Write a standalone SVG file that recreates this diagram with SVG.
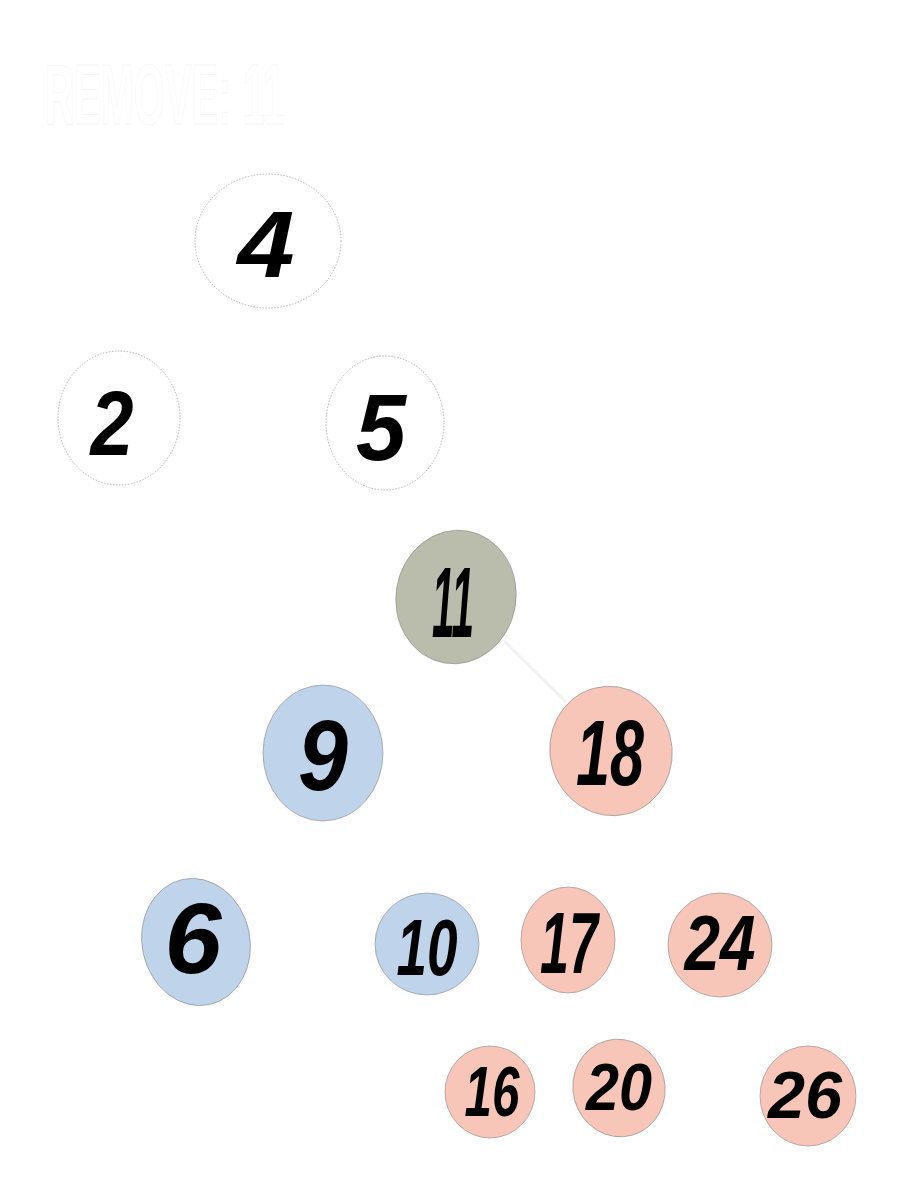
<svg xmlns="http://www.w3.org/2000/svg" width="905" height="1201" viewBox="0 0 905 1201">
<style>
.n{stroke:#8a8a8a;stroke-width:0.6}
.w{fill:#ffffff;stroke-dasharray:1.5 1.5}
.g{fill:#bbbdac}
.b{fill:#bfd3ea}
.r{fill:#f7c6b9}
.t{font-family:"Liberation Sans","DejaVu Sans",sans-serif;font-weight:bold;font-style:italic;fill:#000;text-anchor:middle}
.title{font-family:"Liberation Sans","DejaVu Sans",sans-serif;font-weight:bold;fill:#ffffff;stroke:#f5f5f5;stroke-width:0.8}
</style>
<rect width="905" height="1201" fill="#ffffff"/>
<text class="title" x="45" y="124" font-size="86" textLength="240" lengthAdjust="spacingAndGlyphs">REMOVE: 11</text>
<g id="connectors">
<line x1="503" y1="640" x2="566" y2="702" stroke="#f2f2f2" stroke-width="3"/>
</g>
<g id="node-4"><ellipse class="n w" cx="268" cy="241" rx="73" ry="67"/><text class="t" x="266" y="277" font-size="95" textLength="57" lengthAdjust="spacingAndGlyphs">4</text></g>
<g id="node-2"><ellipse class="n w" cx="119" cy="418" rx="61" ry="67"/><text class="t" x="112" y="455" font-size="90" textLength="43" lengthAdjust="spacingAndGlyphs">2</text></g>
<g id="node-5"><ellipse class="n w" cx="385" cy="423" rx="59" ry="67"/><text class="t" x="381" y="460" font-size="95" textLength="50" lengthAdjust="spacingAndGlyphs">5</text></g>
<g id="node-11"><ellipse class="n g" cx="456" cy="597" rx="60" ry="67" transform="rotate(10 456 597)"/><text class="t" x="453" y="637" font-size="100" textLength="42" lengthAdjust="spacingAndGlyphs">11</text></g>
<g id="node-9"><ellipse class="n b" cx="323" cy="753" rx="60" ry="68"/><text class="t" x="323" y="790" font-size="100" textLength="50" lengthAdjust="spacingAndGlyphs">9</text></g>
<g id="node-18"><ellipse class="n r" cx="611" cy="751" rx="61" ry="65" transform="rotate(-15 611 751)"/><text class="t" x="610" y="785" font-size="93" textLength="68" lengthAdjust="spacingAndGlyphs">18</text></g>
<g id="node-6"><ellipse class="n b" cx="196" cy="942" rx="54" ry="64" transform="rotate(-12 196 942)"/><text class="t" x="193" y="973" font-size="100" textLength="57" lengthAdjust="spacingAndGlyphs">6</text></g>
<g id="node-10"><ellipse class="n b" cx="427" cy="944" rx="52" ry="51"/><text class="t" x="427" y="975" font-size="80" textLength="61" lengthAdjust="spacingAndGlyphs">10</text></g>
<g id="node-17"><ellipse class="n r" cx="568" cy="940" rx="47" ry="53"/><text class="t" x="569" y="973" font-size="88" textLength="58" lengthAdjust="spacingAndGlyphs">17</text></g>
<g id="node-24"><ellipse class="n r" cx="720" cy="945" rx="52" ry="52"/><text class="t" x="720" y="970" font-size="78" textLength="71" lengthAdjust="spacingAndGlyphs">24</text></g>
<g id="node-16"><ellipse class="n r" cx="490" cy="1092" rx="45" ry="46"/><text class="t" x="492" y="1116" font-size="70" textLength="55" lengthAdjust="spacingAndGlyphs">16</text></g>
<g id="node-20"><ellipse class="n r" cx="619" cy="1088" rx="46" ry="49" transform="rotate(-15 619 1088)"/><text class="t" x="619" y="1110" font-size="67" textLength="66" lengthAdjust="spacingAndGlyphs">20</text></g>
<g id="node-26"><ellipse class="n r" cx="808" cy="1096" rx="48" ry="50"/><text class="t" x="805" y="1118" font-size="67" textLength="74" lengthAdjust="spacingAndGlyphs">26</text></g>
</svg>
